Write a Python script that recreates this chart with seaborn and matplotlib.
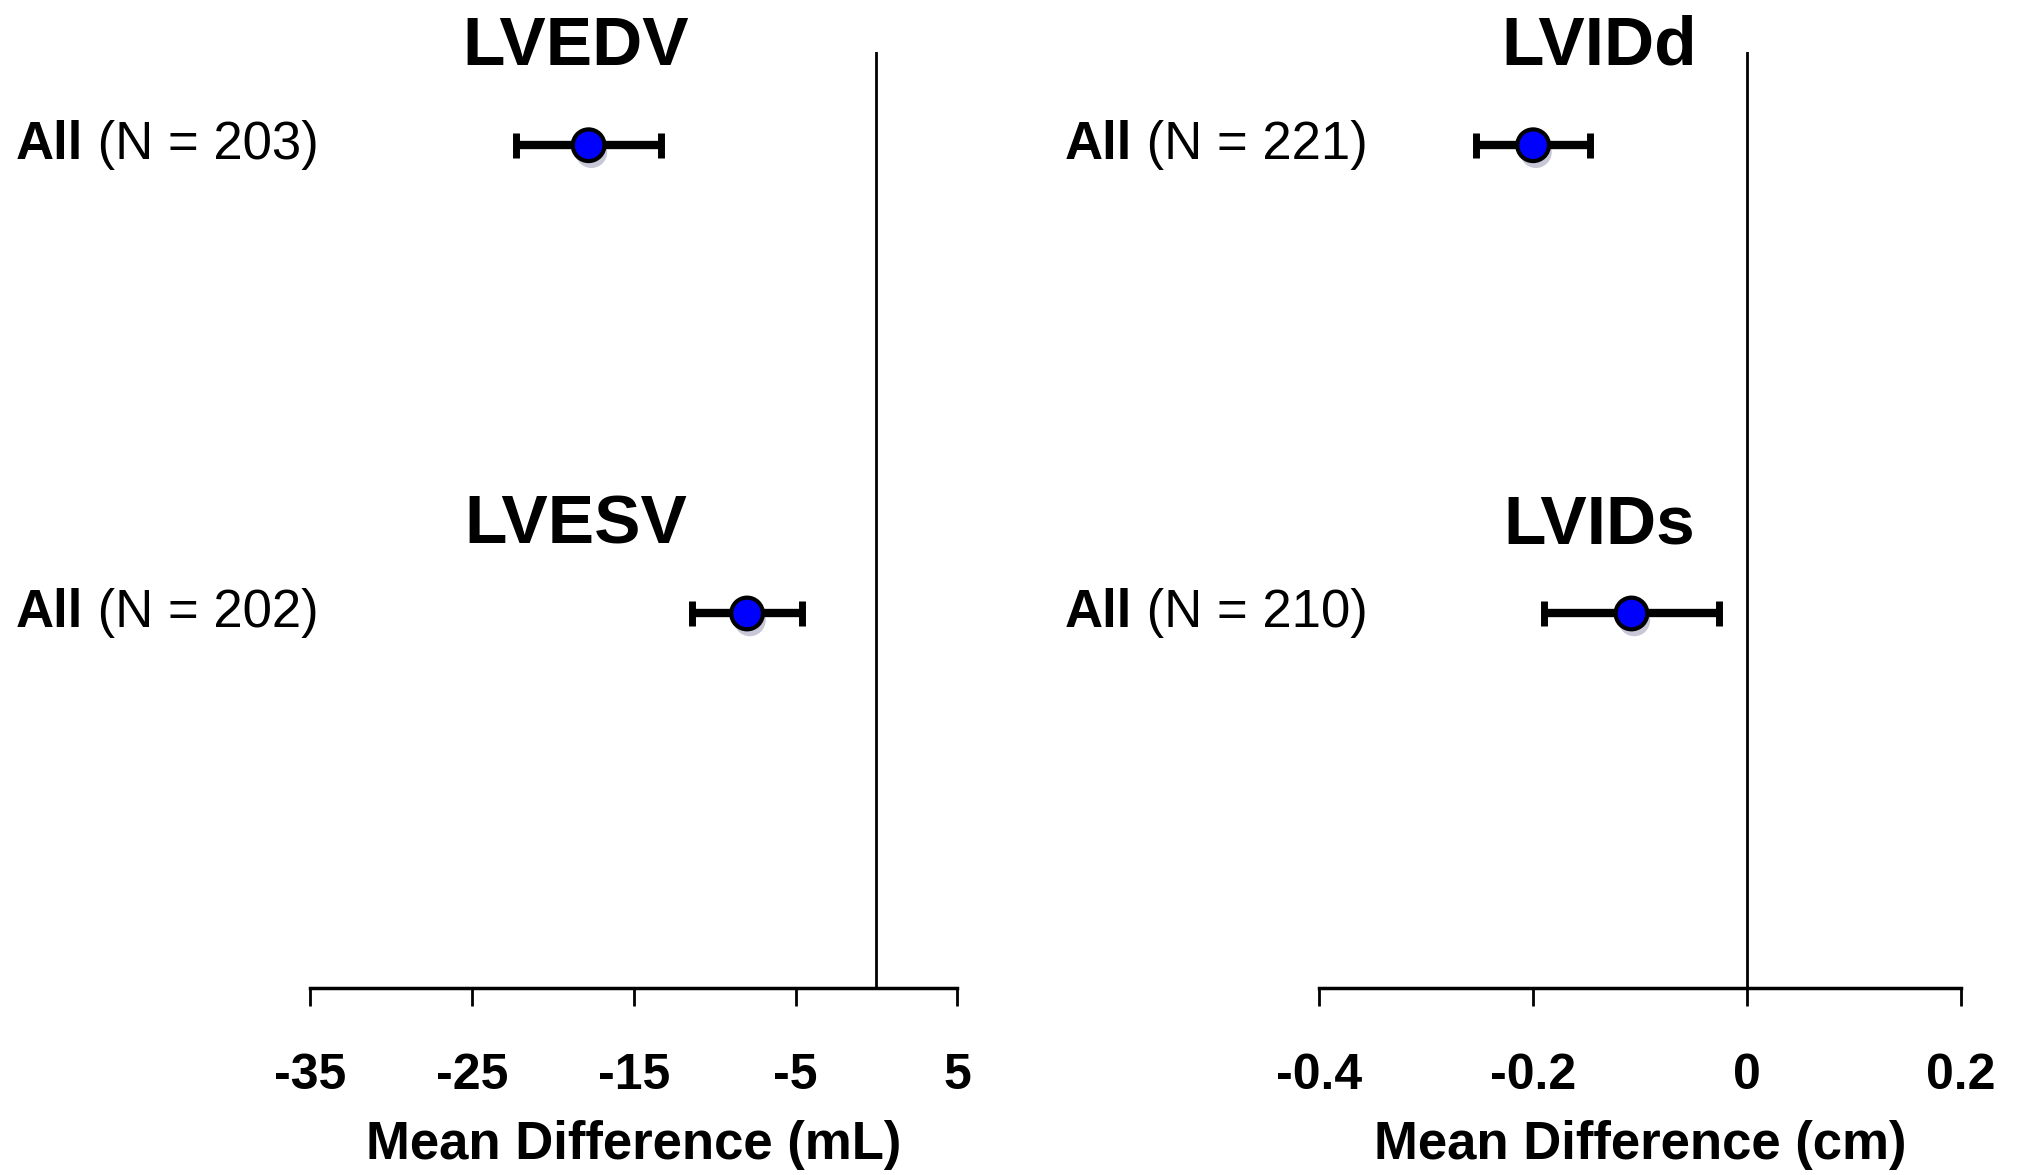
import matplotlib
matplotlib.use("Agg")
import matplotlib.pyplot as plt
import matplotlib.transforms as mtransforms
import matplotlib.patheffects as pe
import seaborn as sns
import pandas as pd

# values
measures = ["LVEDV", "LVESV", "LVIDd", "LVIDs"]
n_counts = [203, 202, 221, 210]
mean_diff = [-17.8, -8.0, -0.20, -0.108]
ci_half = [4.5, 3.4, 0.053, 0.082]
panel_of = ["vol", "vol", "dim", "dim"]
row_of = [0, 1, 0, 1]

vol_ticks = [-35, -25, -15, -5, 5]
dim_ticks = [-0.4, -0.2, 0, 0.2]
vol_ticklabels = ["-35", "-25", "-15", "-5", "5"]
dim_ticklabels = ["-0.4", "-0.2", "0", "0.2"]
vol_xlabel = "Mean Difference (mL)"
dim_xlabel = "Mean Difference (cm)"

df = pd.DataFrame({"measure": measures, "n": n_counts, "mean": mean_diff,
                   "ci": ci_half, "panel": panel_of, "row": row_of})

sns.set_theme(style="white")
plt.rcParams["font.family"] = ["Liberation Sans Narrow", "Liberation Sans", "DejaVu Sans"]
plt.rcParams["text.color"] = "black"
plt.rcParams["axes.labelcolor"] = "black"
plt.rcParams["xtick.color"] = "black"

fig = plt.figure(figsize=(20.2, 11.75), dpi=100)
ax_vol = fig.add_axes([0.1537, 0.1591, 0.3202, 0.797])
ax_dim = fig.add_axes([0.6531, 0.1591, 0.3176, 0.797])

row_y = {0: 3.6, 1: 1.6}          # vertical slot of each row
title_y = {0: 3.944, 1: 1.898}    # title baseline above each row
title_x = {"vol": 0.41, "dim": 0.436}

panels = [("vol", ax_vol, vol_ticks, vol_ticklabels, vol_xlabel),
          ("dim", ax_dim, dim_ticks, dim_ticklabels, dim_xlabel)]

for key, ax, ticks, ticklabels, xlabel in panels:
    sub = df[df["panel"] == key].copy()
    sub["y"] = sub["row"].map(row_y)

    ax.errorbar(sub["mean"], sub["y"], xerr=sub["ci"], fmt="none",
                ecolor="black", elinewidth=6, capsize=9, capthick=5, zorder=2)
    sns.scatterplot(data=sub, x="mean", y="y", ax=ax, s=520, color="#0000ff",
                    edgecolor="black", linewidth=3, zorder=3, legend=False,
                    path_effects=[pe.SimplePatchShadow(offset=(2, -5), alpha=0.22),
                                  pe.Normal()])

    ax.set_xlim(ticks[0], ticks[-1])
    ax.set_ylim(0, 4)
    ax.axvline(0, color="black", linewidth=2, zorder=1)

    ax.set_xticks(ticks)
    ax.set_xticklabels(ticklabels, fontsize=36, fontweight="bold")
    ax.tick_params(axis="x", direction="out", length=13, width=2,
                   color="black", pad=34, bottom=True)
    ax.set_yticks([])
    ax.set_xlabel(xlabel, fontsize=38, fontweight="bold", labelpad=15)
    ax.set_ylabel("")
    for side in ["top", "left", "right"]:
        ax.spines[side].set_visible(False)
    ax.spines["bottom"].set_color("black")
    ax.spines["bottom"].set_linewidth(2.5)

    label_x = 0.0077 if key == "vol" else 0.527
    trans = mtransforms.blended_transform_factory(fig.transFigure, ax.transData)
    for _, r in sub.iterrows():
        ax.text(title_x[key], title_y[r["row"]], r["measure"],
                transform=mtransforms.blended_transform_factory(ax.transAxes, ax.transData),
                ha="center", va="baseline", fontsize=50, fontweight="bold")
        t = ax.text(label_x, r["y"], "All", transform=trans, ha="left", va="center",
                    fontsize=38, fontweight="bold")
        ax.annotate(f" (N = {r['n']})", xycoords=t, xy=(1, 0.5), ha="left",
                    va="center", fontsize=38)

fig.savefig("out.png", dpi=100)
